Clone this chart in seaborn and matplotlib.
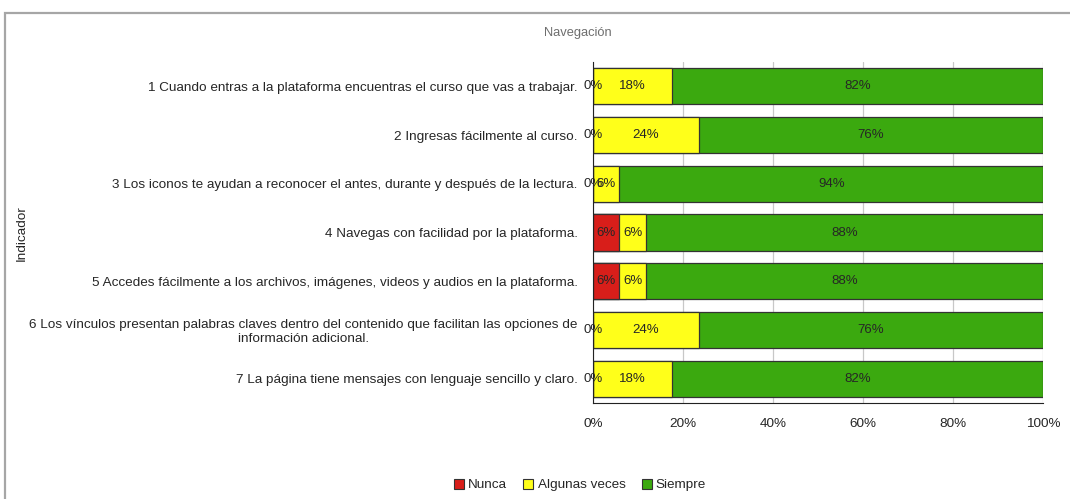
import matplotlib
matplotlib.use("Agg")
import matplotlib.pyplot as plt
from matplotlib.patches import Patch, Rectangle
import seaborn as sns
import pandas as pd

# respuestas (17 encuestados) por indicador
indicadores = [
    "1 Cuando entras a la plataforma encuentras el curso que vas a trabajar.",
    "2 Ingresas fácilmente al curso.",
    "3 Los iconos te ayudan a reconocer el antes, durante y después de la lectura.",
    "4 Navegas con facilidad por la plataforma.",
    "5 Accedes fácilmente a los archivos, imágenes, videos y audios en la plataforma.",
    "6 Los vínculos presentan palabras claves dentro del contenido que facilitan las opciones de\ninformación adicional.",
    "7 La página tiene mensajes con lenguaje sencillo y claro.",
]
nunca = [0, 0, 0, 1, 1, 0, 0]
algunas = [3, 4, 1, 1, 1, 4, 3]
siempre = [14, 13, 16, 15, 15, 13, 14]

series = ["Nunca", "Algunas veces", "Siempre"]
colores = ["#D81E1A", "#FFFF1A", "#3BA90F"]

df = pd.DataFrame({"Indicador": indicadores, "Nunca": nunca,
                   "Algunas veces": algunas, "Siempre": siempre})
total = df[series].sum(axis=1)
pct = df[series].div(total, axis=0) * 100
cum = pct.cumsum(axis=1)

sns.set_style("white")
plt.rcParams["font.family"] = ["Liberation Sans", "DejaVu Sans"]

fig = plt.figure(figsize=(10.7, 4.99), dpi=100)
ax = fig.add_axes([593 / 1070, 1 - 403 / 499, 450 / 1070, 341 / 499])

# barras apiladas: se dibuja el acumulado de mayor a menor
for s, c in reversed(list(zip(series, colores))):
    sns.barplot(x=cum[s], y=df["Indicador"], orient="h", color=c,
                width=0.74, edgecolor="#333333", linewidth=0.9, ax=ax,
                saturation=1)

for i in range(len(df)):
    left = 0
    for s in series:
        v = pct.loc[i, s]
        ax.text(left + v / 2, i, f"{v:.0f}%", ha="center", va="center",
                fontsize=9.5, color="#262626")
        left += v

ax.set_xlim(0, 100)
ax.set_xticks([0, 20, 40, 60, 80, 100])
ax.set_xticklabels([f"{t}%" for t in range(0, 101, 20)])
ax.grid(axis="x", color="#C8C8C8", linewidth=0.9)
ax.set_axisbelow(True)
ax.set_xlabel("")
ax.set_ylabel("")
for sp in ["top", "right"]:
    ax.spines[sp].set_visible(False)
ax.spines["left"].set_color("#222222")
ax.spines["bottom"].set_color("#222222")
ax.tick_params(axis="both", length=0, labelsize=9.7, labelcolor="#262626")
ax.tick_params(axis="x", pad=11)
ax.tick_params(axis="y", pad=11)
for lbl in ax.get_yticklabels():
    lbl.set_multialignment("center")

fig.text(578 / 1070, 1 - 33 / 499, "Navegación", ha="center", va="center",
         fontsize=9.3, color="#6E6E6E")
fig.text(22 / 1070, 1 - 233 / 499, "Indicador", rotation=90, ha="center",
         va="center", fontsize=9.7, color="#262626")

handles = [Patch(facecolor=c, edgecolor="#333333", linewidth=0.8) for c in colores]
fig.legend(handles, series, loc="center", bbox_to_anchor=(580 / 1070, 1 - 485 / 499),
           ncol=3, frameon=False, fontsize=9.7, handlelength=0.75, handleheight=0.75,
           handletextpad=0.3, columnspacing=1.2)

fig.patches.append(Rectangle((5 / 1070, -0.05), 1.2, 1 - 12.5 / 499 + 0.05,
                             transform=fig.transFigure, fill=False,
                             edgecolor="#A6A6A6", linewidth=1.6))

fig.savefig("out.png", dpi=100)
